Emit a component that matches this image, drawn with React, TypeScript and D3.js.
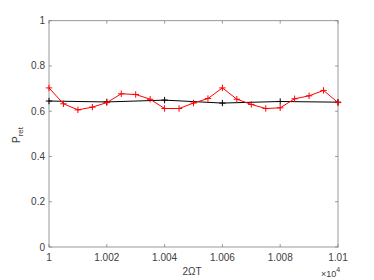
import React from "react";
import * as d3 from "d3";

const xTicks = [1, 1.002, 1.004, 1.006, 1.008, 1.01];
const xTickLabels = ["1", "1.002", "1.004", "1.006", "1.008", "1.01"];
const yTicks = [0, 0.2, 0.4, 0.6, 0.8, 1];
const yTickLabels = ["0", "0.2", "0.4", "0.6", "0.8", "1"];

// x in units of 1e4
const redX = [1, 1.0005, 1.001, 1.0015, 1.002, 1.0025, 1.003, 1.0035, 1.004, 1.0045, 1.005,
  1.0055, 1.006, 1.0065, 1.007, 1.0075, 1.008, 1.0085, 1.009, 1.0095, 1.01];
const redY = [0.703, 0.633, 0.606, 0.618, 0.638, 0.677, 0.674, 0.653, 0.612, 0.612, 0.636,
  0.656, 0.703, 0.653, 0.63, 0.612, 0.615, 0.655, 0.668, 0.692, 0.638];
const blackX = [1, 1.002, 1.004, 1.006, 1.008, 1.01];
const blackY = [0.645, 0.641, 0.649, 0.636, 0.643, 0.64];

const W = 374, H = 280;
const L = 49, R = 338, T = 20.7, B = 247;
const axisColor = "#808080";
const textColor = "#404040";
const font = "'Liberation Sans', Arial, sans-serif";

export default function App() {
  const x = d3.scaleLinear().domain([1, 1.01]).range([L, R]);
  const y = d3.scaleLinear().domain([0, 1]).range([B, T]);
  const line = d3.line<[number, number]>().x(d => x(d[0])).y(d => y(d[1]));
  const red: [number, number][] = redX.map((v, i) => [v, redY[i]]);
  const black: [number, number][] = blackX.map((v, i) => [v, blackY[i]]);
  const tl = 2.9;
  const ms = 3.2;
  const plus = (px: number, py: number, c: string, k: string) => (
    <path key={k} d={`M${px - ms},${py}H${px + ms}M${px},${py - ms}V${py + ms}`} stroke={c} strokeWidth={1} fill="none" />
  );
  return (
    <svg width={W} height={H} style={{ position: "absolute", left: 0, top: 0 }} fontFamily={font}>
      <rect x={0} y={0} width={W} height={H} fill="#fff" />
      {/* ticks */}
      {xTicks.map((t, i) => (
        <g key={"xt" + i}>
          <line x1={x(t)} x2={x(t)} y1={B} y2={B - tl} stroke={axisColor} strokeWidth={0.8} />
          <line x1={x(t)} x2={x(t)} y1={T} y2={T + tl} stroke={axisColor} strokeWidth={0.8} />
          <text x={x(t)} y={261} fontSize={10} fill={textColor} textAnchor="middle">{xTickLabels[i]}</text>
        </g>
      ))}
      {yTicks.map((t, i) => (
        <g key={"yt" + i}>
          <line x1={L} x2={L + tl} y1={y(t)} y2={y(t)} stroke={axisColor} strokeWidth={0.8} />
          <line x1={R} x2={R - tl} y1={y(t)} y2={y(t)} stroke={axisColor} strokeWidth={0.8} />
          <text x={45} y={y(t) + 3.5} fontSize={10} fill={textColor} textAnchor="end">{yTickLabels[i]}</text>
        </g>
      ))}
      <rect x={L} y={T} width={R - L} height={B - T} fill="none" stroke={axisColor} strokeWidth={0.8} />
      {/* black line */}
      <path d={line(black) || ""} stroke="#000" strokeWidth={1} fill="none" />
      {black.map((d, i) => plus(x(d[0]), y(d[1]), "#000", "b" + i))}
      {/* red line */}
      <path d={line(red) || ""} stroke="#ff0000" strokeWidth={1} fill="none" />
      {red.map((d, i) => plus(x(d[0]), y(d[1]), "#ff0000", "r" + i))}
      {/* labels */}
      <text x={192} y={275} fontSize={10} fill={textColor} textAnchor="middle">2ΩT</text>
      <text transform={`translate(20,143) rotate(-90)`} fontSize={10} fill={textColor}>
        P<tspan fontSize={8} dy={3}>ret</tspan>
      </text>
      <text x={321} y={277} fontSize={9} fill={textColor}>×10<tspan fontSize={7} dy={-5}>4</tspan></text>
    </svg>
  );
}
